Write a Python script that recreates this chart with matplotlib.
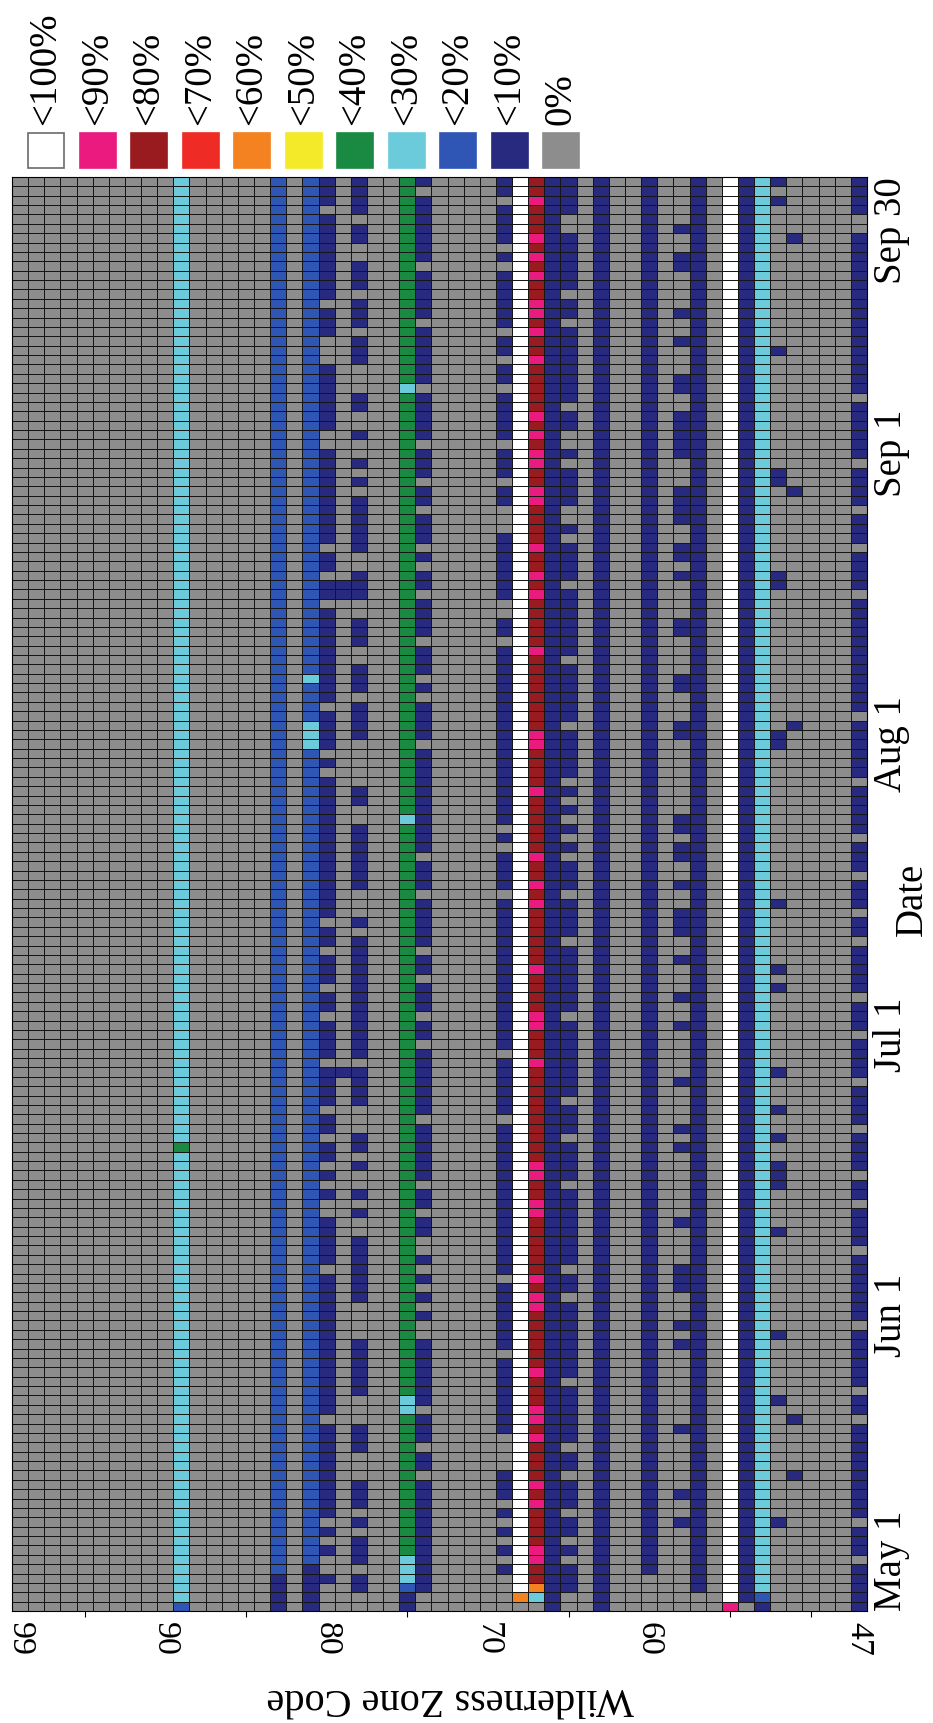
import numpy as np
import matplotlib
matplotlib.use('Agg')
import matplotlib.pyplot as plt
from matplotlib.colors import ListedColormap, BoundaryNorm
from matplotlib.patches import Rectangle

plt.rcParams['font.family'] = ['Liberation Serif', 'DejaVu Serif']

# occupancy classes, in legend order
classes = ['<100%', '<90%', '<80%', '<70%', '<60%', '<50%', '<40%', '<30%', '<20%', '<10%', '0%']
class_colors = ['#FFFFFF', '#EA1A7F', '#9A1B1F', '#EE2B24', '#F58220', '#F4EA2A',
                '#1A8A43', '#6CCBDB', '#2F56B5', '#272A7F', '#8D8D8D']
WHITE, PINK, MAROON, RED, ORANGE, YELLOW, GREEN, CYAN, BLUE, NAVY, GRAY = range(11)

zones = np.arange(47, 100)
n_days = 153  # May 1 .. Sep 30, day 0 = May 1
date_ticks = [0, 31.5, 61.5, 92.5, 123.5, 153]
date_labels = ['May 1', 'Jun 1', 'Jul 1', 'Aug 1', 'Sep 1', 'Sep 30']
zone_labels = [99, 90, 80, 70, 60, 47]
zone_minor = [95, 85, 75, 65, 55, 50]

# day indices that differ from each zone's usual class
z89_blue = [0]
z89_green = [49]
z83_navy = [0, 1, 2, 3]
z81_navy = [0, 1, 2, 3, 4]
z81_cyan = [92, 93, 94, 99]
z80_gray = [0, 1, 2, 4, 5, 7, 9, 20, 36, 42, 43, 45, 47, 50, 53, 58, 63, 66, 70, 73,
            89, 91, 96, 107, 110, 113, 124, 125, 133, 134, 135, 139, 149]
z79_navy = [57, 108, 109]
z78_navy = [2, 3, 5, 6, 7, 9, 11, 12, 13, 17, 18, 19, 23, 24, 25, 26, 27, 28, 33, 34,
            35, 36, 37, 38, 39, 42, 44, 47, 49, 50, 54, 55, 56, 57, 59, 60, 61, 62, 63,
            64, 65, 66, 67, 68, 69, 70, 71, 73, 77, 78, 79, 80, 81, 82, 83, 86, 87, 93,
            94, 95, 96, 98, 99, 100, 103, 104, 105, 108, 109, 110, 113, 114, 115, 116,
            117, 118, 120, 122, 125, 128, 129, 133, 134, 135, 137, 138, 139, 141, 142,
            143, 146, 147, 149, 150, 151, 152]
z75_navy = [0, 1]
z75_blue = [2]
z75_cyan = [3, 4, 5, 21, 22, 84, 130]
z74_gray = [0, 1, 14, 17, 21, 29, 30, 32, 34, 36, 38, 39, 42, 45, 52, 60, 63, 67, 70,
            76, 80, 92, 97, 99, 103, 108, 111, 113, 117, 120, 124, 130, 137, 143, 151]
z69_gray = [0, 1, 2, 3, 5, 7, 9, 11, 15, 16, 17, 18, 27, 35, 52, 59, 76, 81, 83, 103,
            106, 107, 115, 116, 117, 120, 124, 130, 133, 136, 143, 145, 150]
z68_gray = [0]
z68_orange = [1]
z67_gray = [0]
z67_cyan = [1]
z67_orange = [2]
z67_pink = [5, 6, 11, 13, 18, 20, 21, 25, 32, 33, 35, 42, 43, 46, 47, 58, 62, 63, 68,
            75, 77, 80, 87, 92, 93, 102, 108, 110, 113, 118, 119, 122, 123, 125, 127,
            133, 136, 138, 139, 142, 144, 146, 150]
z65_gray = [0, 1, 5, 7, 10, 14, 17, 24, 33, 36, 45, 50, 54, 63, 71, 76, 80, 82, 84, 86,
            88, 94, 101, 109, 114, 116, 117, 122, 124, 125, 128, 137, 140, 147, 148]
z60_gray = [0, 1, 2, 3]
z58_navy = [9, 12, 19, 28, 30, 34, 35, 36, 41, 49, 51, 56, 62, 65, 69, 72, 73, 74, 77,
            80, 81, 83, 84, 93, 94, 98, 99, 104, 105, 110, 112, 113, 116, 117, 118, 119,
            123, 124, 125, 126, 127, 130, 131, 135, 138, 143, 144, 147]
z57_gray = [0, 1]
z55_pink = [0]
z54_gray = [0]
z53_navy = [0]
z53_blue = [1]
z52_navy = [9, 22, 29, 40, 45, 46, 47, 50, 53, 57, 66, 68, 75, 92, 93, 109, 110, 120,
            121, 134, 150, 152]
z51_navy = [14, 20, 94, 119, 146]
z47_gray = [5, 9, 20, 23, 30, 38, 43, 46, 51, 56, 61, 65, 71, 74, 78, 82, 88, 95, 108,
            113, 117, 122, 129, 147, 148]

# (zone, usual class, [(class, days), ...]); zones not listed are 0% all season
zone_rows = [
    (89, CYAN, [(BLUE, z89_blue), (GREEN, z89_green)]),
    (83, BLUE, [(NAVY, z83_navy)]),
    (81, BLUE, [(NAVY, z81_navy), (CYAN, z81_cyan)]),
    (80, NAVY, [(GRAY, z80_gray)]),
    (79, GRAY, [(NAVY, z79_navy)]),
    (78, GRAY, [(NAVY, z78_navy)]),
    (75, GREEN, [(NAVY, z75_navy), (BLUE, z75_blue), (CYAN, z75_cyan)]),
    (74, NAVY, [(GRAY, z74_gray)]),
    (69, NAVY, [(GRAY, z69_gray)]),
    (68, WHITE, [(GRAY, z68_gray), (ORANGE, z68_orange)]),
    (67, MAROON, [(GRAY, z67_gray), (CYAN, z67_cyan), (ORANGE, z67_orange), (PINK, z67_pink)]),
    (66, NAVY, []),
    (65, NAVY, [(GRAY, z65_gray)]),
    (63, NAVY, []),
    (60, NAVY, [(GRAY, z60_gray)]),
    (58, GRAY, [(NAVY, z58_navy)]),
    (57, NAVY, [(GRAY, z57_gray)]),
    (55, WHITE, [(PINK, z55_pink)]),
    (54, NAVY, [(GRAY, z54_gray)]),
    (53, CYAN, [(NAVY, z53_navy), (BLUE, z53_blue)]),
    (52, GRAY, [(NAVY, z52_navy)]),
    (51, GRAY, [(NAVY, z51_navy)]),
    (47, NAVY, [(GRAY, z47_gray)]),
]

grid = np.full((n_days, zones.size), GRAY)
for zone, base, extra in zone_rows:
    c = zone - zones[0]
    grid[:, c] = base
    for cls, days in extra:
        grid[days, c] = cls

W, H = 933, 1723
fig = plt.figure(figsize=(W / 100, H / 100), dpi=100)
ax = fig.add_axes([12 / W, 112 / H, 855 / W, 1434 / H])

cmap = ListedColormap(class_colors)
norm = BoundaryNorm(np.arange(-0.5, len(classes) + 0.5), len(classes))
x_edges = np.arange(zones[0] - 0.5, zones[-1] + 1.0)
y_edges = np.arange(n_days + 1)
ax.pcolormesh(x_edges, y_edges, grid, cmap=cmap, norm=norm,
              edgecolors='#161616', linewidth=0.7)
ax.set_xlim(99.5, 46.5)
ax.set_ylim(0, n_days)

# zone axis along the bottom, labels read top to bottom
ax.set_xticks(zone_labels)
ax.set_xticklabels([str(z) for z in zone_labels], rotation=270, fontsize=24.5)
ax.set_xticks(zone_minor, minor=True)
ax.tick_params(axis='x', which='major', length=0, pad=8)
ax.tick_params(axis='x', which='minor', length=4, width=0.8, direction='out')

# date axis along the right side
ax.yaxis.tick_right()
ax.set_yticks(date_ticks)
ax.set_yticklabels(date_labels, rotation=90, fontsize=28, va='center')
ax.tick_params(axis='y', length=0, pad=4)
ylabels = ax.get_yticklabels()
ylabels[0].set_va('bottom')
ylabels[-1].set_va('top')

ax.set_xlabel('Wilderness Zone Code', fontsize=29, rotation=180)
ax.xaxis.set_label_coords(0.513, -0.0607)
ax.xaxis.label.set_va('center')

ax.yaxis.set_label_position('right')
ax.set_ylabel('Date', fontsize=28, rotation=90)
ax.yaxis.set_label_coords(1.0526, 0.496)
ax.yaxis.label.set_ha('center')
ax.yaxis.label.set_va('center')
ax.yaxis.label.set_rotation_mode('default')

for s in ax.spines.values():
    s.set_linewidth(0.8)

# legend strip across the top
lax = fig.add_axes([0, 1 - 177 / H, 1, 177 / H])
lax.set_xlim(0, W)
lax.set_ylim(177, 0)
lax.axis('off')
for i, (name, color) in enumerate(zip(classes, class_colors)):
    x0 = 28 + 51.5 * i
    edge = '#6b6b6b' if color == '#FFFFFF' else color
    lax.add_patch(Rectangle((x0, 133), 36, 35, facecolor=color, edgecolor=edge, linewidth=1.2))
    lax.text(x0 + 18, 125, name, rotation=90, ha='center', va='bottom', fontsize=28)

fig.savefig('out.png', dpi=100)
